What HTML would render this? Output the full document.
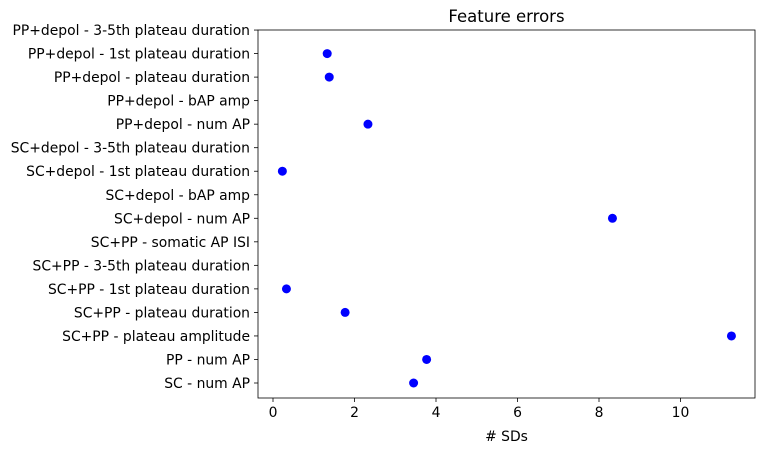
<!DOCTYPE html>
<html><head><meta charset="utf-8"><style>
body{margin:0;background:#fff;font-family:"Liberation Sans","DejaVu Sans",sans-serif}
</style></head><body>
<svg id="chart" width="765" height="453" font-family="'DejaVu Sans','Liberation Sans',sans-serif"></svg>
<script>
const categories=["SC - num AP","PP - num AP","SC+PP - plateau amplitude","SC+PP - plateau duration","SC+PP - 1st plateau duration","SC+PP - 3-5th plateau duration","SC+PP - somatic AP ISI","SC+depol - num AP","SC+depol - bAP amp","SC+depol - 1st plateau duration","SC+depol - 3-5th plateau duration","PP+depol - num AP","PP+depol - bAP amp","PP+depol - plateau duration","PP+depol - 1st plateau duration","PP+depol - 3-5th plateau duration"];
const values=[3.45,3.77,11.25,1.77,0.33,null,null,8.33,null,0.23,null,2.33,null,1.38,1.33,null];
const xTicks=[0,2,4,6,8,10];
const NS="http://www.w3.org/2000/svg";
const svg=document.getElementById('chart');
const L=258,R=755,T=30,B=398;
function xs(v){return 273+v*40.75;}
function ys(i){return 383-i*23.53;}
function mk(t,a,p){const e=document.createElementNS(NS,t);for(const k in a)e.setAttribute(k,a[k]);(p||svg).appendChild(e);return e;}
const frame=mk('rect',{x:L,y:T,width:R-L,height:B-T,fill:'none',stroke:'#000','stroke-width':0.8});


const title=mk('text',{x:(L+R)/2,y:22,'text-anchor':'middle','font-size':16.5});
title.textContent='Feature errors';


xTicks.forEach(v=>{
  const tk=mk('line',{x1:xs(v),x2:xs(v),y1:B,y2:B+4,stroke:'#000','stroke-width':0.8});
  
  
  const t=mk('text',{x:xs(v),y:B+19,'text-anchor':'middle','font-size':13.9});
  t.textContent=v;
  
  
});
const xt=mk('text',{x:(L+R)/2,y:441,'text-anchor':'middle','font-size':13.9});
xt.textContent='# SDs';


categories.forEach((c,i)=>{
  const tk=mk('line',{x1:L-4,x2:L,y1:ys(i),y2:ys(i),stroke:'#000','stroke-width':0.8});
  
  
  const t=mk('text',{x:L-8,y:ys(i)+5,'text-anchor':'end','font-size':13.9});
  t.textContent=c;
  
  
  if(values[i]!==null){
    const d=mk('circle',{cx:xs(values[i]),cy:ys(i),r:4.5,fill:'#0000ff'});
    
    
  }
});
</script>
</body></html>
